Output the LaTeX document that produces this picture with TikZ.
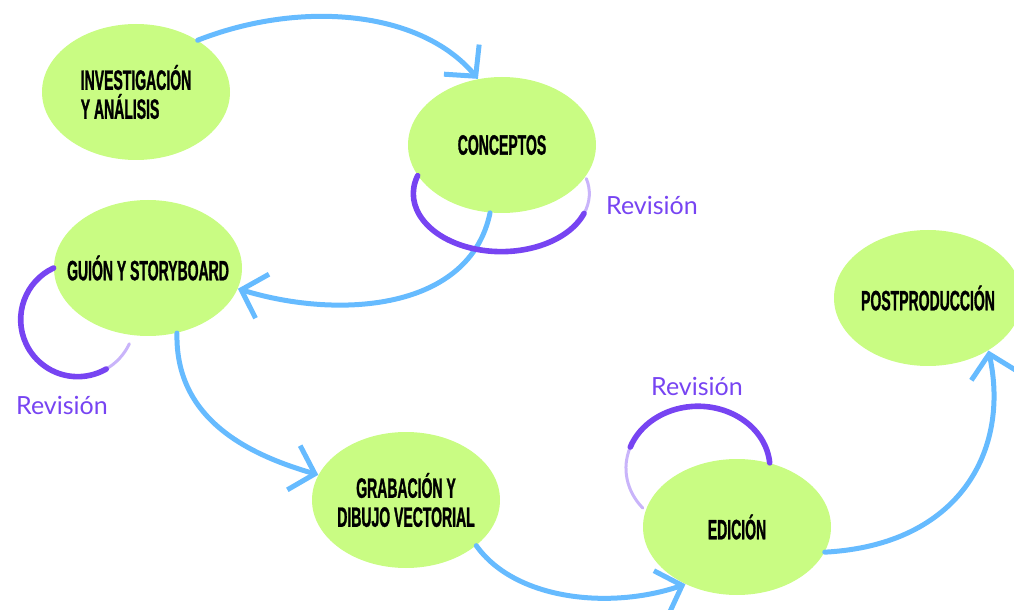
\documentclass[tikz,border=0pt]{standalone}
\usepackage{fontspec}
\usetikzlibrary{arrows.meta, positioning, shapes.geometric}

\newfontfamily\phasefont{Liberation Sans}[FakeStretch=0.5, FakeBold=1]
\newfontfamily\notefont{Lato}
\definecolor{phasegreen}{HTML}{C9FC83}
\definecolor{flowblue}{HTML}{66BBFF}
\definecolor{revpurple}{HTML}{7744F2}

\tikzset{
  phase/.style={ellipse, fill=phasegreen, minimum width=94pt, minimum height=68pt, inner sep=-12pt, align=center, font=\phasefont\bfseries\fontsize{14}{14.5}\selectfont},
  flow/.style={draw=flowblue, line width=2.5pt, line cap=round, -{Straight Barb[length=11pt, width=23pt, line width=2.5pt]}},
  revloop/.style={draw=revpurple, line width=2.8pt, line cap=round},
  revfade/.style={revloop, line width=1.5pt, opacity=.4},
  revlabel/.style={text=revpurple, font=\notefont\fontsize{12.5}{15}\selectfont}
}

\begin{document}
\begin{tikzpicture}[x=0.5pt, y=-0.5pt, on grid]
  \useasboundingbox (0,0) rectangle (1014,610);

  \node (investigacion) [phase, align=left] at (136,92) {INVESTIGACIÓN\\Y ANÁLISIS};
  \node (conceptos) [phase, below right=26.5pt and 183pt of investigacion] {CONCEPTOS};
  \node (guion) [phase, below right=88pt and 6pt of investigacion] {GUIÓN Y STORYBOARD};
  \node (grabacion) [phase, below right=116pt and 129pt of guion] {GRABACIÓN Y\\DIBUJO VECTORIAL};
  \node (edicion) [phase, below right=13.5pt and 165.5pt of grabacion] {EDICIÓN};
  \node (postproduccion) [phase, above right=114.5pt and 95.5pt of edicion] {POSTPRODUCCIÓN};

  \draw[flow] (investigacion.40) .. controls (300,0) and (420,10) .. (conceptos.110);
  \draw[flow] (conceptos.260) .. controls (470,310) and (340,320) .. (guion.-13);
  \draw[flow] (guion.-66) .. controls (175,420) and (250,455) .. (grabacion.164);
  \draw[flow] (grabacion.-33) .. controls (515,600) and (610,610) .. (edicion.228);
  \draw[flow] (edicion.-16) .. controls (960,545) and (1010,450) .. (postproduccion.-41);

  % revision loops
  \draw[revloop] (conceptos.200) arc[start angle=198, end angle=20, x radius=88, y radius=58] coordinate (conceptosfade);
  \draw[revfade] (conceptosfade) arc[start angle=20, end angle=-15, x radius=88, y radius=58];
  \draw[revloop] (guion.west) arc[start angle=245, end angle=60, x radius=57, y radius=57] coordinate (guionfade);
  \draw[revfade] (guionfade) arc[start angle=60, end angle=25, x radius=57, y radius=57];
  \draw[revloop] (edicion.63) arc[start angle=355, end angle=200, x radius=72, y radius=62] coordinate (edicionfade);
  \draw[revfade] (edicionfade) arc[start angle=200, end angle=140, x radius=72, y radius=62];

  \node (revconceptos) [revlabel, below right=30pt and 75pt of conceptos] {Revisión};
  \node (revguion) [revlabel, below left=68.5pt and 43pt of guion] {Revisión};
  \node (revedicion) [revlabel, above left=70.5pt and 20pt of edicion] {Revisión};
\end{tikzpicture}
\end{document}
